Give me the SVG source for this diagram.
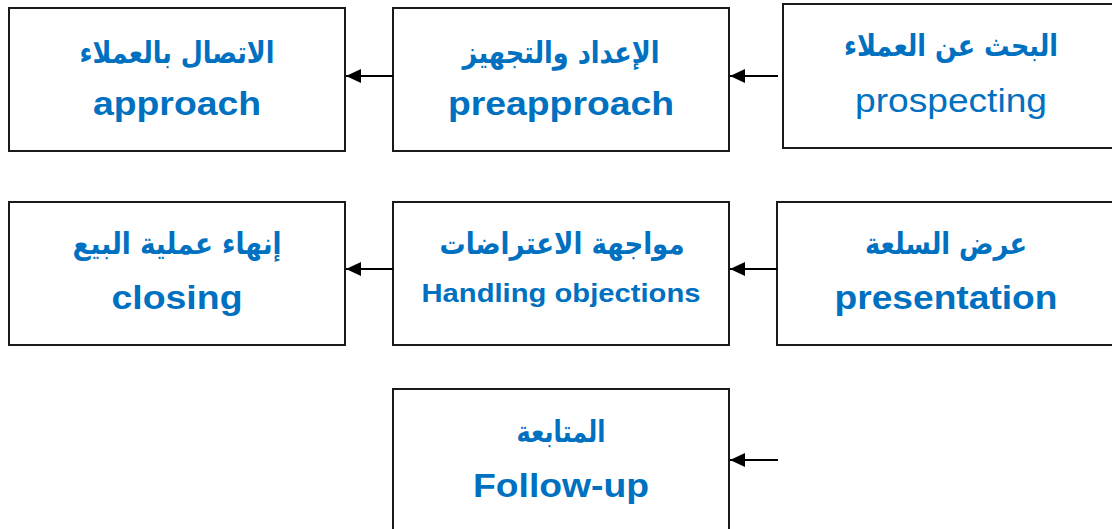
<svg xmlns="http://www.w3.org/2000/svg" width="1112" height="529" viewBox="0 0 1112 529">
<style>
.box{fill:#fff;stroke:#1a1a1a;stroke-width:2}
.ar{font-family:"DejaVu Sans",sans-serif;font-weight:bold;font-size:30px;fill:#0070C0;text-anchor:middle}
.en{font-family:"Liberation Sans",Arial,sans-serif;font-weight:bold;font-size:34px;fill:#0070C0;text-anchor:middle}
.enr{font-family:"Liberation Sans",Arial,sans-serif;font-weight:normal;font-size:34px;fill:#0070C0;text-anchor:middle}
.con{stroke:#000;stroke-width:2;fill:none;marker-end:url(#ah)}
</style>
<defs>
<marker id="ah" markerUnits="userSpaceOnUse" markerWidth="16" markerHeight="14" refX="15" refY="7" orient="auto">
<path d="M0,0 L15,7 L0,14 Z" fill="#000"/>
</marker>
</defs>
<rect width="1112" height="529" fill="#fff"/>
<g id="approach">
<rect class="box" x="9" y="8" width="336" height="143"/>
<text class="ar" x="177" y="63" textLength="195" lengthAdjust="spacingAndGlyphs">الاتصال بالعملاء</text>
<text class="en" x="177" y="115" textLength="168" lengthAdjust="spacingAndGlyphs">approach</text>
</g>
<g id="preapproach">
<rect class="box" x="393" y="8" width="336" height="143"/>
<text class="ar" x="561" y="63" textLength="197" lengthAdjust="spacingAndGlyphs">الإعداد والتجهيز</text>
<text class="en" x="561" y="115" textLength="226" lengthAdjust="spacingAndGlyphs">preapproach</text>
</g>
<g id="prospecting">
<rect class="box" x="783" y="4" width="336" height="144"/>
<text class="ar" x="951" y="56" textLength="214" lengthAdjust="spacingAndGlyphs">البحث عن العملاء</text>
<text class="enr" x="951" y="112" textLength="192" lengthAdjust="spacingAndGlyphs">prospecting</text>
</g>
<g id="closing">
<rect class="box" x="9" y="202" width="336" height="143"/>
<text class="ar" x="177" y="254" textLength="209" lengthAdjust="spacingAndGlyphs">إنهاء عملية البيع</text>
<text class="en" x="177" y="309" textLength="131" lengthAdjust="spacingAndGlyphs">closing</text>
</g>
<g id="objections">
<rect class="box" x="393" y="202" width="336" height="143"/>
<text class="ar" x="562" y="254" textLength="245" lengthAdjust="spacingAndGlyphs">مواجهة الاعتراضات</text>
<text class="en" x="561" y="302" style="font-size:26px" textLength="279" lengthAdjust="spacingAndGlyphs">Handling objections</text>
</g>
<g id="presentation">
<rect class="box" x="777" y="202" width="340" height="143"/>
<text class="ar" x="946" y="254" textLength="162" lengthAdjust="spacingAndGlyphs">عرض السلعة</text>
<text class="en" x="946" y="309" textLength="223" lengthAdjust="spacingAndGlyphs">presentation</text>
</g>
<g id="followup">
<rect class="box" x="393" y="389" width="336" height="150"/>
<text class="ar" x="561" y="442" textLength="89" lengthAdjust="spacingAndGlyphs">المتابعة</text>
<text class="en" x="561" y="497" textLength="176" lengthAdjust="spacingAndGlyphs">Follow-up</text>
</g>
<g id="connectors">
<line class="con" x1="393" y1="76" x2="346" y2="76"/>
<line class="con" x1="778" y1="76" x2="730" y2="76"/>
<line class="con" x1="393" y1="269" x2="346" y2="269"/>
<line class="con" x1="777" y1="269" x2="730" y2="269"/>
<line class="con" x1="778" y1="460" x2="730" y2="460"/>
</g>
</svg>
